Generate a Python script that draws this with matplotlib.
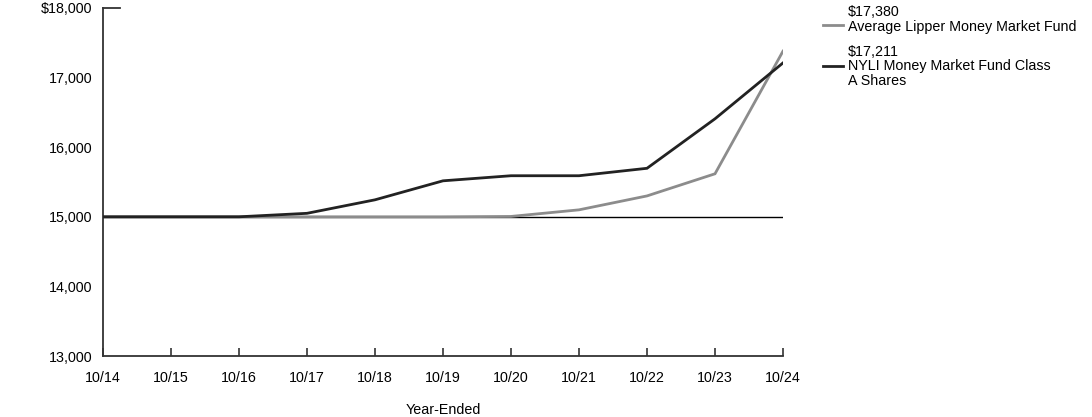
import matplotlib
matplotlib.use("Agg")
import matplotlib.pyplot as plt

years = ["10/14", "10/15", "10/16", "10/17", "10/18", "10/19", "10/20", "10/21", "10/22", "10/23", "10/24"]
nyli = [15000, 15000, 15000, 15050, 15244, 15517, 15590, 15590, 15697, 16408, 17211]
lipper = [15000, 15000, 15000, 15000, 15000, 15000, 15005, 15100, 15300, 15618, 17380]
yticks = [13000, 14000, 15000, 16000, 17000, 18000]
yticklabels = ["13,000", "14,000", "15,000", "16,000", "17,000", "$18,000"]

plt.rcParams['font.family'] = ['Liberation Sans', 'DejaVu Sans']
fs = 10.3
fig = plt.figure(figsize=(10.92, 4.17), dpi=100)
ax = fig.add_axes([103/1092, 61/417, 680/1092, 348/417])
x = list(range(len(years)))
ax.axhline(15000, color="black", lw=1.0, zorder=1)
ax.plot(x, lipper, color="#8c8c8c", lw=2.0, zorder=2, solid_joinstyle="miter")
ax.plot(x, nyli, color="#222222", lw=2.0, zorder=3, solid_joinstyle="miter")
ax.set_xlim(0, 10)
ax.set_ylim(13000, 18000)
ax.set_xticks(x)
ax.set_xticklabels(years, fontsize=fs)
ax.set_yticks(yticks)
ax.set_yticklabels(yticklabels, fontsize=fs)
ax.tick_params(axis="x", direction="in", length=6, width=1.2, color="#333333", pad=10.5)
ax.tick_params(axis="y", length=0, pad=7.5)
for s in ["top", "right"]:
    ax.spines[s].set_visible(False)
for s in ["left", "bottom"]:
    ax.spines[s].set_color("#333333")
    ax.spines[s].set_linewidth(1.3)
# short top tick at 18,000
ax.plot([0, 0.25], [18000, 18000], color="#333333", lw=1.3, clip_on=False)
ax.set_xlabel("Year-Ended", fontsize=fs, labelpad=13)

# legend
fig.text(848/1092, 1 - 12/417, "$17,380", fontsize=fs, va="center", ha="left")
fig.text(848/1092, 1 - 27/417, "Average Lipper Money Market Fund", fontsize=fs, va="center", ha="left")
fig.add_artist(plt.Line2D([823/1092, 843/1092], [1 - 25/417, 1 - 25/417], color="#8c8c8c", lw=2))
fig.text(848/1092, 1 - 52/417, "$17,211", fontsize=fs, va="center", ha="left")
fig.text(848/1092, 1 - 66/417, "NYLI Money Market Fund Class", fontsize=fs, va="center", ha="left")
fig.text(848/1092, 1 - 81/417, "A Shares", fontsize=fs, va="center", ha="left")
fig.add_artist(plt.Line2D([823/1092, 843/1092], [1 - 66/417, 1 - 66/417], color="#222222", lw=2))

fig.savefig("out.png", dpi=100)
